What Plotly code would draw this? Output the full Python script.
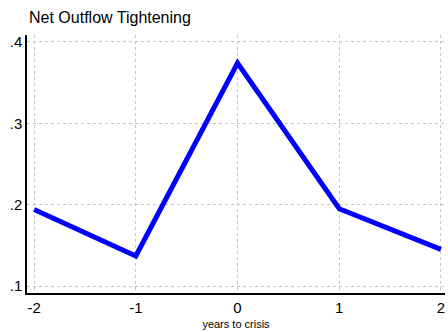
import plotly.graph_objects as go

years = [-2, -1, 0, 1, 2]
values = [0.194, 0.137, 0.374, 0.195, 0.145]
y_ticks = [0.1, 0.2, 0.3, 0.4]
y_tick_labels = [".1", ".2", ".3", ".4"]
x_ticks = [-2, -1, 0, 1, 2]

fig = go.Figure()
fig.add_trace(go.Scatter(x=years, y=values, mode="lines",
                         line=dict(color="#0000ff", width=5), showlegend=False))

fig.update_layout(
    width=448, height=332,
    margin=dict(l=27, r=3, t=35, b=39),
    paper_bgcolor="white", plot_bgcolor="white",
    font=dict(family="Liberation Sans, Arial", size=15, color="black"),
    xaxis=dict(range=[-2.07, 2.04], tickvals=x_ticks, ticktext=[str(v) for v in x_ticks],
               showgrid=True, gridcolor="#c4c4c4", griddash="dot", gridwidth=1,
               showline=True, linecolor="black", linewidth=1.5, zeroline=False,
               ticks="", ticklen=0,
               title=dict(text="years to crisis", font=dict(size=11), standoff=6)),
    yaxis=dict(range=[0.0914, 0.4086], tickvals=y_ticks, ticktext=y_tick_labels,
               showgrid=True, gridcolor="#c4c4c4", griddash="dot", gridwidth=1,
               showline=True, linecolor="black", linewidth=1.5, zeroline=False,
               ticks="", ticklen=0),
    annotations=[dict(text="Net Outflow Tightening", xref="paper", yref="paper",
                      x=0, y=1, xanchor="left", yanchor="middle", yshift=18,
                      showarrow=False, font=dict(size=16, color="black"))],
)

fig.write_html("out.html", config={"displayModeBar": False},
               post_script="document.body.style.margin='0';")
